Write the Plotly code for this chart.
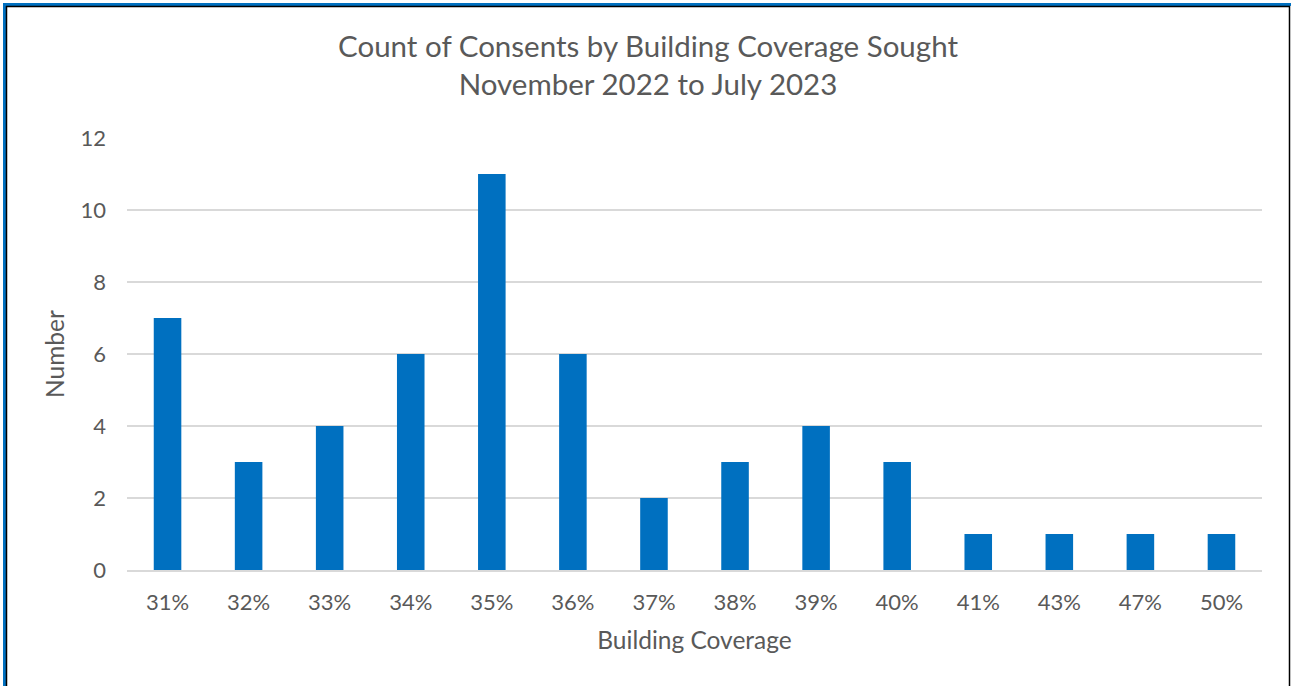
import plotly.graph_objects as go

categories = ["31%", "32%", "33%", "34%", "35%", "36%", "37%", "38%", "39%", "40%", "41%", "43%", "47%", "50%"]
counts = [7, 3, 4, 6, 11, 6, 2, 3, 4, 3, 1, 1, 1, 1]
y_ticks = [0, 2, 4, 6, 8, 10, 12]

W, H = 1291, 686
L, R, T, B = 127, 29, 138, 116
PW, PH = W - L - R, H - T - B

def px(x):
    return (x - L) / PW

def py(y):
    return (H - B - y) / PH

FONT = "Lato"
GRAY = "#595959"

fig = go.Figure(go.Bar(x=categories, y=counts, marker=dict(color="#0070C0", line=dict(width=0))))

shapes = [
    dict(type="line", xref="paper", yref="paper", x0=px(3), x1=px(1291), y0=py(4.5), y1=py(4.5),
         line=dict(color="#0070C0", width=3)),
    dict(type="line", xref="paper", yref="paper", x0=px(4.5), x1=px(4.5), y0=py(3), y1=py(686),
         line=dict(color="#0070C0", width=3)),
    dict(type="line", xref="paper", yref="paper", x0=px(6), x1=px(1290), y0=py(6.5), y1=py(6.5),
         line=dict(color="#000000", width=1.5)),
    dict(type="line", xref="paper", yref="paper", x0=px(6.5), x1=px(6.5), y0=py(6), y1=py(686),
         line=dict(color="#000000", width=1.5)),
    dict(type="line", xref="paper", yref="paper", x0=px(1289.5), x1=px(1289.5), y0=py(6), y1=py(686),
         line=dict(color="#000000", width=1.5)),
]

fig.update_layout(
    width=W, height=H,
    margin=dict(l=L, r=R, t=T, b=B, pad=0),
    paper_bgcolor="white", plot_bgcolor="white",
    bargap=0.66,
    showlegend=False,
    font=dict(family=FONT, color=GRAY),
    title=dict(text="Count of Consents by Building Coverage Sought<br>November 2022 to July 2023",
               x=648 / W, xref="container", xanchor="center", y=1 - 57 / H, yref="container",
               yanchor="middle",
               font=dict(family=FONT, size=29.5, color=GRAY)),
    shapes=shapes,
)

fig.update_xaxes(
    showline=True, linecolor="#D9D9D9", linewidth=1.5,
    showgrid=False, ticks="", tickfont=dict(size=22, color=GRAY),
    ticklabelstandoff=12,
    title=dict(text="Building Coverage", font=dict(size=24.5, color=GRAY), standoff=18),
)
fig.update_yaxes(
    range=[0, 12], tickvals=y_ticks, showgrid=True, gridcolor="#D9D9D9", gridwidth=1.5,
    zeroline=False, showline=False, ticks="",
    tickfont=dict(size=22, color=GRAY), ticklabelstandoff=20,
    title=dict(text="Number", font=dict(size=24.5, color=GRAY), standoff=8),
)

fig.write_html("out.html")
